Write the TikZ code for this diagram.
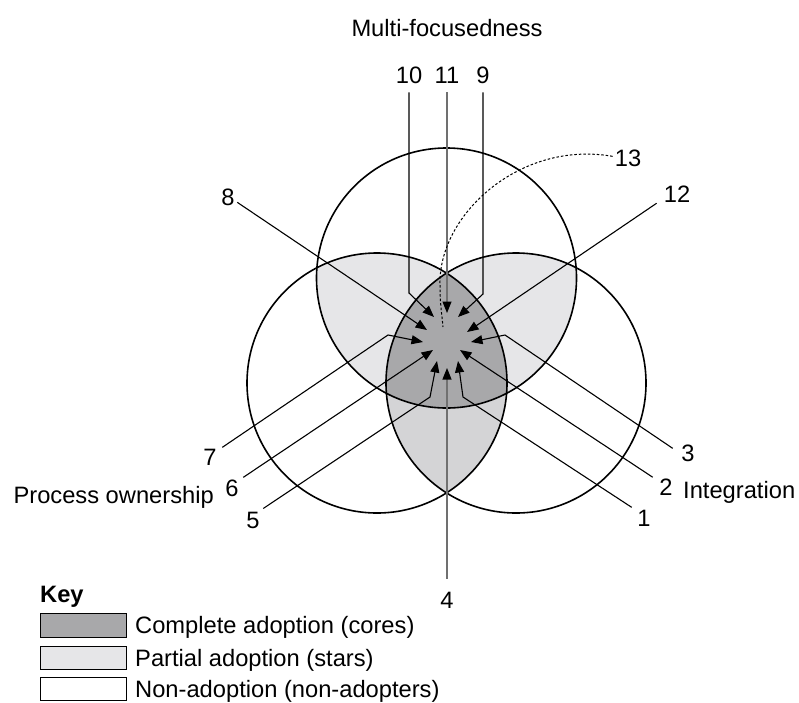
\documentclass[tikz,border=0pt]{standalone}
\usepackage{fontspec}
\setmainfont{Liberation Sans}
\usetikzlibrary{arrows.meta}
\definecolor{coregray}{HTML}{A8A8AA}
\definecolor{stargray}{HTML}{E6E6E8}
\definecolor{lensgray}{HTML}{D4D4D6}
\definecolor{vline}{HTML}{707070}
\begin{document}
\begin{tikzpicture}[x=1pt,y=-1pt,
  lbl/.style={font=\fontsize{23.7}{28}\selectfont, inner sep=0pt, anchor=base},
  conn/.style={line width=1.1pt, -{Triangle[length=11.5pt,width=9pt,color=black,fill=black]}},
  ring/.style={line width=1.6pt},
  keybox/.style={draw, line width=1.2pt}]
\useasboundingbox (0,0) rectangle (799,702);

\coordinate (T) at (446.5,278);
\coordinate (L) at (377,383);
\coordinate (R) at (516,383);

% region fills
\begin{scope}
  \clip (T) circle[radius=130];
  \fill[stargray] (L) circle[radius=130];
  \fill[stargray] (R) circle[radius=130];
\end{scope}
\begin{scope}
  \clip (L) circle[radius=130];
  \fill[lensgray] (R) circle[radius=130];
  \clip (R) circle[radius=130];
  \fill[coregray] (T) circle[radius=130];
\end{scope}

% circle outlines
\draw[ring] (T) circle[radius=130];
\draw[ring] (L) circle[radius=130];
\draw[ring] (R) circle[radius=130];

% titles
\node[lbl] (mf) at (447,36) {Multi-focusedness};
\node[lbl, anchor=base east] (po) at (214,503) {Process ownership};
\node[lbl, anchor=base west] (ig) at (683,498) {Integration};

% number labels
\node[lbl] (n10) at (409,83.5) {10};
\node[lbl] (n11) at (447,83.5) {11};
\node[lbl] (n9) at (483,83.5) {9};
\node[lbl] (n13) at (628,166.5) {13};
\node[lbl] (n8) at (228,205.5) {8};
\node[lbl] (n12) at (677,202.5) {12};
\node[lbl] (n7) at (210,465.5) {7};
\node[lbl] (n6) at (232,496.5) {6};
\node[lbl] (n5) at (253,528.5) {5};
\node[lbl] (n3) at (688,461.5) {3};
\node[lbl] (n2) at (666,495.5) {2};
\node[lbl] (n1) at (644,526.5) {1};
\node[lbl] (n4) at (447,608.5) {4};

% bend points and arrow tips
\coordinate (b10) at (409,293);  \coordinate (t10) at (434,317);
\coordinate (t11) at (447,313);
\coordinate (b9) at (483,294);   \coordinate (t9) at (458,317);
\coordinate (t8) at (427,330);
\coordinate (t12) at (467,332);
\coordinate (b7) at (388,335);   \coordinate (t7) at (423,342);
\coordinate (t6) at (433,350);
\coordinate (b5) at (430,397);   \coordinate (t5) at (437,361);
\coordinate (b3) at (505,335);   \coordinate (t3) at (471,342);
\coordinate (t2) at (460,350);
\coordinate (b1) at (463,397);   \coordinate (t1) at (458,361);
\coordinate (t4) at (447,368);
\coordinate (e13) at (443,327);

% connectors
\draw[conn] ([yshift=-8.5pt]n10.south) -- (b10) -- (t10);
\draw[conn, vline] ([yshift=-8.5pt]n11.south) -- (t11);
\draw[conn] ([yshift=-8.5pt]n9.south) -- (b9) -- (t9);
\draw[conn] ([shift={(2.5pt,-5pt)}]n8.east) -- (t8);
\draw[conn] ([shift={(-7pt,-9pt)}]n12.west) -- (t12);
\draw[conn] ([shift={(5.5pt,10pt)}]n7.east) -- (b7) -- (t7);
\draw[conn] ([shift={(4.5pt,11pt)}]n6.east) -- (t6);
\draw[conn] ([shift={(3.5pt,12pt)}]n5.east) -- (b5) -- (t5);
\draw[conn] ([shift={(-8.5pt,5pt)}]n3.west) -- (b3) -- (t3);
\draw[conn] ([shift={(-6.5pt,10pt)}]n2.west) -- (t2);
\draw[conn] ([shift={(-5.5pt,11pt)}]n1.west) -- (b1) -- (t1);
\draw[conn, vline] ([yshift=13.5pt]n4.north) -- (t4);
\draw[line width=1pt, dash pattern=on 2.5pt off 2pt]
  ([shift={(-2pt,2pt)}]n13.west) .. controls (520,140) and (438,215) .. (440,285)
  .. controls (440,305) and (442,315) .. (e13);

% key
\node[lbl, anchor=base west, font=\fontsize{23.7}{28}\selectfont\bfseries] (key) at (40,602) {Key};
\node[keybox, fill=coregray, minimum width=86pt, minimum height=24pt, anchor=north west] (k1) at (40,613) {};
\node[keybox, fill=stargray, minimum width=86pt, minimum height=23pt, anchor=north west] (k2) at (40,646) {};
\node[keybox, fill=white, minimum width=86pt, minimum height=23pt, anchor=north west] (k3) at (40,677) {};
\node[lbl, anchor=base west] (kt1) at (135,633.5) {Complete adoption (cores)};
\node[lbl, anchor=base west] (kt2) at (135,666) {Partial adoption (stars)};
\node[lbl, anchor=base west] (kt3) at (135,697) {Non-adoption (non-adopters)};
\end{tikzpicture}
\end{document}
